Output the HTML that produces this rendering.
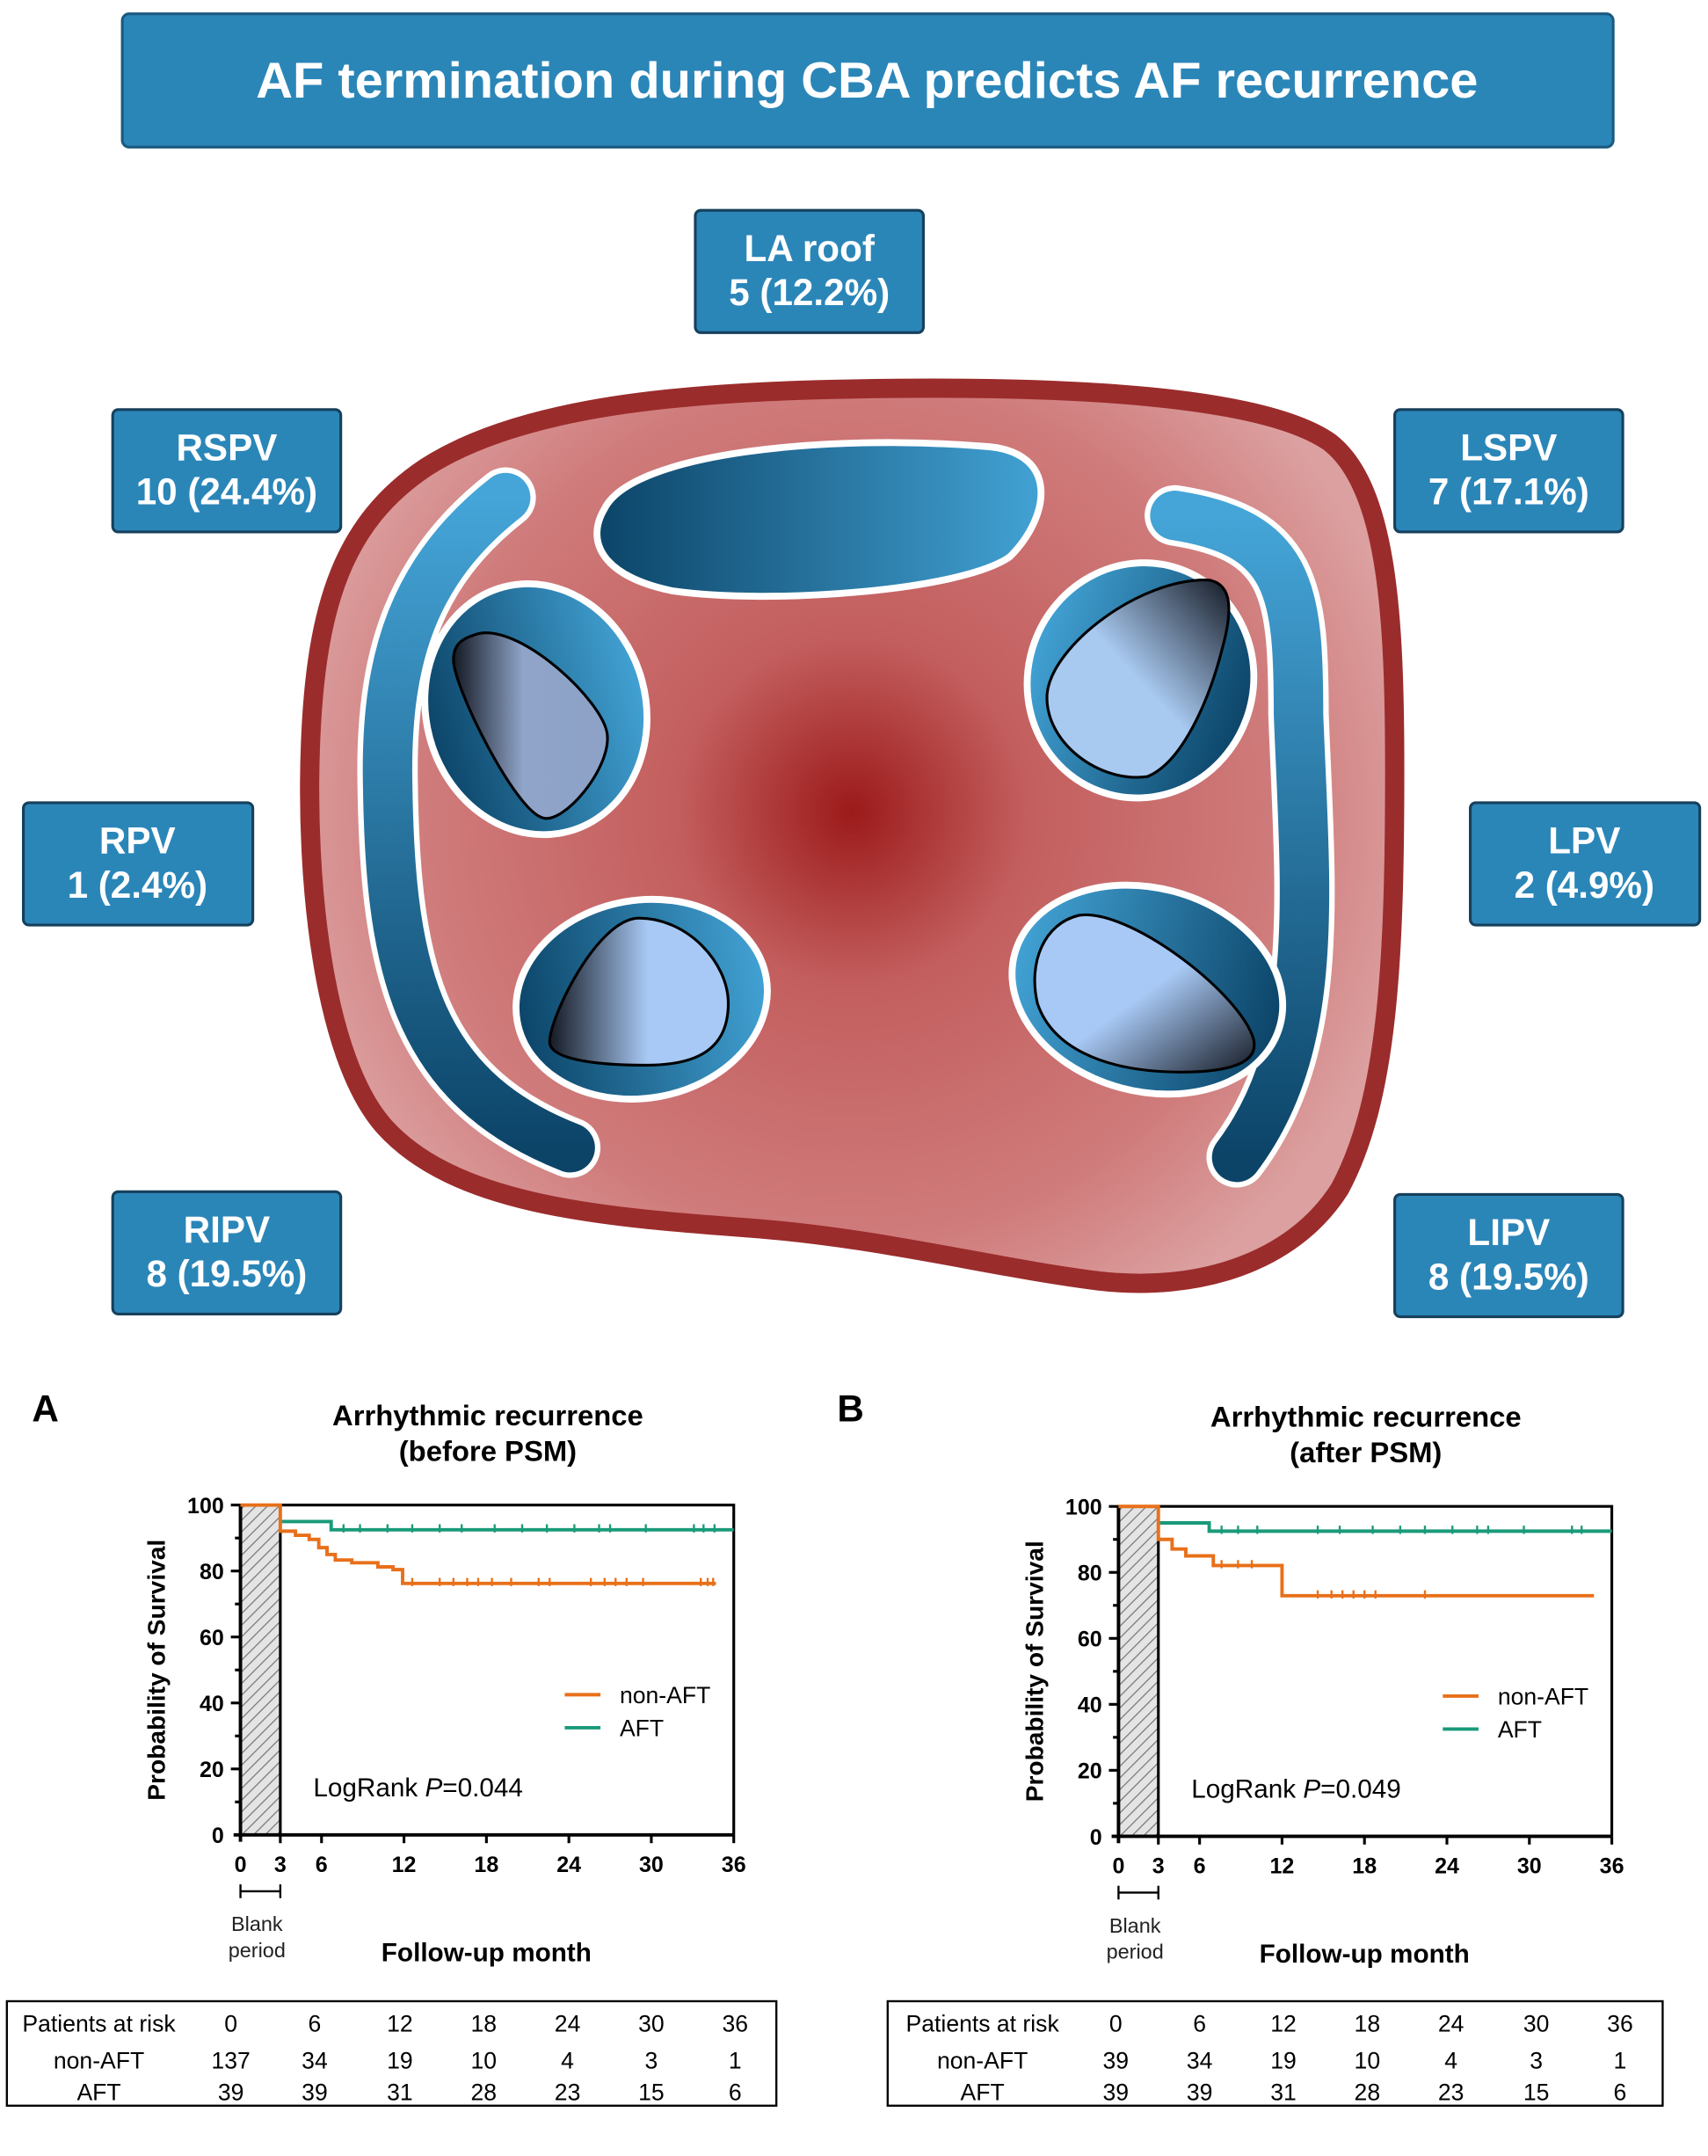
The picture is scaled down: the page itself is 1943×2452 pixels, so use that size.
<!DOCTYPE html>
<html><head><meta charset="utf-8"><style>
html,body{margin:0;padding:0;background:#fff;}
svg{display:block;}
text{font-family:"Liberation Sans",sans-serif;}
</style></head><body>
<svg width="1943" height="2452" viewBox="0 0 1243 1568.6" xmlns="http://www.w3.org/2000/svg">
<defs>
<radialGradient id="atr" cx="620" cy="590" r="420" gradientUnits="userSpaceOnUse">
<stop offset="0" stop-color="#9c1a1a"/><stop offset="0.3" stop-color="#c35e5e"/><stop offset="0.75" stop-color="#d07c7c"/><stop offset="1" stop-color="#dca0a0"/></radialGradient>
<linearGradient id="blu" x1="0" y1="0" x2="1" y2="0"><stop offset="0" stop-color="#0c4468"/><stop offset="1" stop-color="#42a2d4"/></linearGradient>
<linearGradient id="bluR" x1="1" y1="0" x2="0" y2="0"><stop offset="0" stop-color="#0c4468"/><stop offset="1" stop-color="#42a2d4"/></linearGradient>
<linearGradient id="bandL" x1="0" y1="0" x2="0" y2="1"><stop offset="0" stop-color="#45a5d8"/><stop offset="1" stop-color="#0c4468"/></linearGradient>
<linearGradient id="holeL" x1="0" y1="0" x2="1" y2="0"><stop offset="0" stop-color="#151a24"/><stop offset="0.45" stop-color="#8fa4c8"/><stop offset="1" stop-color="#8ea2c8"/></linearGradient>
<linearGradient id="holeR" x1="1" y1="0" x2="0" y2="1"><stop offset="0" stop-color="#151a24"/><stop offset="0.5" stop-color="#a8c9f0"/><stop offset="1" stop-color="#a8c9f0"/></linearGradient>
<linearGradient id="holeB" x1="0" y1="0" x2="1" y2="0"><stop offset="0" stop-color="#151a24"/><stop offset="0.55" stop-color="#a8c9f5"/><stop offset="1" stop-color="#a8c9f5"/></linearGradient>
<linearGradient id="holeBR" x1="1" y1="1" x2="0" y2="0"><stop offset="0" stop-color="#151a24"/><stop offset="0.5" stop-color="#a8c9f5"/><stop offset="1" stop-color="#a8c9f5"/></linearGradient>
<pattern id="hatch" width="6" height="6" patternUnits="userSpaceOnUse" patternTransform="rotate(45)"><rect width="6" height="6" fill="#e4e4e4"/><line x1="0" y1="0" x2="0" y2="6" stroke="#777" stroke-width="1.6"/></pattern>
</defs>

<!-- Title -->
<rect x="89" y="10" width="1085" height="97" rx="5" fill="#2b86b8" stroke="#1b5a80" stroke-width="2"/>
<text x="631" y="71" text-anchor="middle" font-size="37" font-weight="bold" fill="#fff">AF termination during CBA predicts AF recurrence</text>

<!-- Atrium -->
<path d="M 620 283 C 780 280, 920 288, 968 322 C 1010 355, 1015 450, 1015 560 C 1015 700, 1010 800, 975 865 C 940 920, 870 940, 800 932 C 720 922, 640 900, 540 893 C 430 885, 330 875, 280 820 C 235 770, 222 640, 226 540 C 230 440, 250 380, 310 340 C 380 295, 500 285, 620 283 Z" fill="url(#atr)" stroke="#9b2c2c" stroke-width="14"/>

<!-- bands -->
<path d="M 368 362 C 300 415, 282 480, 282 560 C 283 700, 300 790, 415 835" fill="none" stroke="#fff" stroke-width="44" stroke-linecap="round"/>
<path d="M 368 362 C 300 415, 282 480, 282 560 C 283 700, 300 790, 415 835" fill="none" stroke="url(#bandL)" stroke-width="36" stroke-linecap="round"/>
<path d="M 855 375 C 940 388, 945 430, 945 520 C 950 650, 962 760, 900 842" fill="none" stroke="#fff" stroke-width="44" stroke-linecap="round"/>
<path d="M 855 375 C 940 388, 945 430, 945 520 C 950 650, 962 760, 900 842" fill="none" stroke="url(#bandL)" stroke-width="36" stroke-linecap="round"/>

<!-- top oval -->
<path d="M 440 370 C 460 330, 600 315, 720 325 C 770 330, 765 375, 735 405 C 700 430, 560 440, 490 430 C 440 420, 425 395, 440 370 Z" fill="url(#blu)" stroke="#fff" stroke-width="5"/>

<!-- veins -->
<ellipse cx="390" cy="516" rx="80" ry="92" fill="url(#blu)" stroke="#fff" stroke-width="5" transform="rotate(-15 390 516)"/>
<path d="M 345 462 C 375 450, 440 510, 442 535 C 444 560, 410 600, 395 595 C 375 590, 330 500, 330 480 C 330 470, 335 465, 345 462 Z" fill="url(#holeL)" stroke="#000" stroke-width="2"/>
<ellipse cx="830" cy="495" rx="82" ry="86" fill="url(#bluR)" stroke="#fff" stroke-width="5" transform="rotate(20 830 495)"/>
<path d="M 880 422 C 895 425, 898 440, 890 470 C 880 510, 860 555, 835 565 C 800 570, 760 540, 762 505 C 765 470, 830 420, 880 422 Z" fill="url(#holeR)" stroke="#000" stroke-width="2"/>
<ellipse cx="467" cy="727" rx="92" ry="72" fill="url(#blu)" stroke="#fff" stroke-width="5" transform="rotate(-10 467 727)"/>
<path d="M 465 668 C 500 668, 530 700, 530 730 C 530 765, 505 775, 470 775 C 430 775, 400 770, 400 758 C 400 740, 435 668, 465 668 Z" fill="url(#holeB)" stroke="#000" stroke-width="2"/>
<ellipse cx="835" cy="720" rx="100" ry="74" fill="url(#bluR)" stroke="#fff" stroke-width="5" transform="rotate(15 835 720)"/>
<path d="M 785 666 C 820 660, 900 720, 912 755 C 918 775, 890 780, 860 780 C 800 780, 765 760, 755 730 C 748 700, 760 672, 785 666 Z" fill="url(#holeBR)" stroke="#000" stroke-width="2"/>

<!-- label boxes -->
<g font-size="27" font-weight="bold" fill="#fff" text-anchor="middle">
<rect x="506" y="153" width="166" height="89" rx="4" fill="#2b86b8" stroke="#16405c" stroke-width="2"/>
<text x="589" y="190">LA roof</text><text x="589" y="222">5 (12.2%)</text>
<rect x="82" y="298" width="166" height="89" rx="4" fill="#2b86b8" stroke="#16405c" stroke-width="2"/>
<text x="165" y="335">RSPV</text><text x="165" y="367">10 (24.4%)</text>
<rect x="1015" y="298" width="166" height="89" rx="4" fill="#2b86b8" stroke="#16405c" stroke-width="2"/>
<text x="1098" y="335">LSPV</text><text x="1098" y="367">7 (17.1%)</text>
<rect x="17" y="584" width="167" height="89" rx="4" fill="#2b86b8" stroke="#16405c" stroke-width="2"/>
<text x="100" y="621">RPV</text><text x="100" y="653">1 (2.4%)</text>
<rect x="1070" y="584" width="167" height="89" rx="4" fill="#2b86b8" stroke="#16405c" stroke-width="2"/>
<text x="1153" y="621">LPV</text><text x="1153" y="653">2 (4.9%)</text>
<rect x="82" y="867" width="166" height="89" rx="4" fill="#2b86b8" stroke="#16405c" stroke-width="2"/>
<text x="165" y="904">RIPV</text><text x="165" y="936">8 (19.5%)</text>
<rect x="1015" y="869" width="166" height="89" rx="4" fill="#2b86b8" stroke="#16405c" stroke-width="2"/>
<text x="1098" y="906">LIPV</text><text x="1098" y="938">8 (19.5%)</text>
</g>

<!-- Chart A -->
<g>
<text x="33" y="1034" font-size="27" font-weight="bold" text-anchor="middle">A</text>
<text x="355" y="1037" font-size="21" font-weight="bold" text-anchor="middle">Arrhythmic recurrence</text>
<text x="355" y="1063" font-size="21" font-weight="bold" text-anchor="middle">(before PSM)</text>
<rect x="175" y="1095" width="29" height="240" fill="url(#hatch)"/>
<polyline points="175,1095 534,1095 534,1335" fill="none" stroke="#000" stroke-width="2"/>
<line x1="204" y1="1095" x2="204" y2="1335" stroke="#000" stroke-width="2"/>
<line x1="175" y1="1095" x2="175" y2="1340" stroke="#000" stroke-width="2.5"/>
<line x1="170" y1="1335" x2="534" y2="1335" stroke="#000" stroke-width="2.5"/>
<g stroke="#000" stroke-width="2">
<line x1="168" y1="1095" x2="175" y2="1095"/><line x1="168" y1="1143" x2="175" y2="1143"/><line x1="168" y1="1191" x2="175" y2="1191"/><line x1="168" y1="1239" x2="175" y2="1239"/><line x1="168" y1="1287" x2="175" y2="1287"/>
<line x1="171" y1="1119" x2="175" y2="1119"/><line x1="171" y1="1167" x2="175" y2="1167"/><line x1="171" y1="1215" x2="175" y2="1215"/><line x1="171" y1="1263" x2="175" y2="1263"/><line x1="171" y1="1311" x2="175" y2="1311"/>
<line x1="204" y1="1335" x2="204" y2="1341"/><line x1="234" y1="1335" x2="234" y2="1341"/><line x1="294" y1="1335" x2="294" y2="1341"/><line x1="354" y1="1335" x2="354" y2="1341"/><line x1="414" y1="1335" x2="414" y2="1341"/><line x1="474" y1="1335" x2="474" y2="1341"/><line x1="534" y1="1335" x2="534" y2="1341"/>
<line x1="175" y1="1376" x2="204" y2="1376" stroke-width="1.5"/><line x1="175" y1="1371" x2="175" y2="1381" stroke-width="1.5"/><line x1="204" y1="1371" x2="204" y2="1381" stroke-width="1.5"/>
</g>
<g font-size="16" font-weight="bold" text-anchor="end">
<text x="163" y="1101">100</text><text x="163" y="1149">80</text><text x="163" y="1197">60</text><text x="163" y="1245">40</text><text x="163" y="1293">20</text><text x="163" y="1341">0</text></g>
<g font-size="16" font-weight="bold" text-anchor="middle">
<text x="175" y="1362">0</text><text x="204" y="1362">3</text><text x="234" y="1362">6</text><text x="294" y="1362">12</text><text x="354" y="1362">18</text><text x="414" y="1362">24</text><text x="474" y="1362">30</text><text x="534" y="1362">36</text></g>
<text transform="translate(120 1215) rotate(-90)" font-size="18" font-weight="bold" text-anchor="middle">Probability of Survival</text>
<text x="187" y="1405" font-size="15" text-anchor="middle" fill="#222">Blank</text><text x="187" y="1424" font-size="15" text-anchor="middle" fill="#222">period</text>
<text x="354" y="1427" font-size="19" font-weight="bold" text-anchor="middle">Follow-up month</text>
<polyline points="204,1107 241,1107 241,1113 534,1113" fill="none" stroke="#1a9a7a" stroke-width="2.5"/>
<polyline points="175,1095 204,1095 204,1114 215,1114 215,1117 225,1117 225,1120 232,1120 232,1126 238,1126 238,1131 244,1131 244,1135 256,1135 256,1137 275,1137 275,1140 286,1140 286,1142 293,1142 293,1152 521,1152" fill="none" stroke="#e8701a" stroke-width="2.5"/>
<g stroke="#e8701a" stroke-width="1.5"><path d="M300 1148v6M320 1148v6M330 1148v6M340 1148v6M348 1148v6M358 1148v6M372 1148v6M392 1148v6M400 1148v6M430 1148v6M440 1148v6M448 1148v6M456 1148v6M468 1148v6M510 1148v6M515 1148v6M519 1148v6"/></g>
<g stroke="#1a9a7a" stroke-width="1.5"><path d="M250 1109v6M262 1109v6M282 1109v6M300 1109v6M320 1109v6M336 1109v6M360 1109v6M380 1109v6M398 1109v6M418 1109v6M436 1109v6M444 1109v6M470 1109v6M505 1109v6M512 1109v6M520 1109v6"/></g>
<line x1="411" y1="1233" x2="437" y2="1233" stroke="#e8701a" stroke-width="2.5"/>
<line x1="411" y1="1257" x2="437" y2="1257" stroke="#1a9a7a" stroke-width="2.5"/>
<text x="451" y="1239" font-size="17">non-AFT</text><text x="451" y="1263" font-size="17">AFT</text>
<text x="228" y="1307" font-size="19">LogRank <tspan font-style="italic">P</tspan>=0.044</text>
<rect x="5" y="1456" width="560" height="76" fill="none" stroke="#000" stroke-width="1.5"/>
<g font-size="17" text-anchor="middle">
<text x="72" y="1478">Patients at risk</text><text x="168" y="1478">0</text><text x="229" y="1478">6</text><text x="291" y="1478">12</text><text x="352" y="1478">18</text><text x="413" y="1478">24</text><text x="474" y="1478">30</text><text x="535" y="1478">36</text>
<text x="72" y="1505">non-AFT</text><text x="168" y="1505">137</text><text x="229" y="1505">34</text><text x="291" y="1505">19</text><text x="352" y="1505">10</text><text x="413" y="1505">4</text><text x="474" y="1505">3</text><text x="535" y="1505">1</text>
<text x="72" y="1528">AFT</text><text x="168" y="1528">39</text><text x="229" y="1528">39</text><text x="291" y="1528">31</text><text x="352" y="1528">28</text><text x="413" y="1528">23</text><text x="474" y="1528">15</text><text x="535" y="1528">6</text>
</g>
</g>

<!-- Chart B -->
<g transform="translate(639 1)">
<text x="-20" y="1033" font-size="27" font-weight="bold" text-anchor="middle">B</text>
<text x="355" y="1037" font-size="21" font-weight="bold" text-anchor="middle">Arrhythmic recurrence</text>
<text x="355" y="1063" font-size="21" font-weight="bold" text-anchor="middle">(after PSM)</text>
<rect x="175" y="1095" width="29" height="240" fill="url(#hatch)"/>
<polyline points="175,1095 534,1095 534,1335" fill="none" stroke="#000" stroke-width="2"/>
<line x1="204" y1="1095" x2="204" y2="1335" stroke="#000" stroke-width="2"/>
<line x1="175" y1="1095" x2="175" y2="1340" stroke="#000" stroke-width="2.5"/>
<line x1="170" y1="1335" x2="534" y2="1335" stroke="#000" stroke-width="2.5"/>
<g stroke="#000" stroke-width="2">
<line x1="168" y1="1095" x2="175" y2="1095"/><line x1="168" y1="1143" x2="175" y2="1143"/><line x1="168" y1="1191" x2="175" y2="1191"/><line x1="168" y1="1239" x2="175" y2="1239"/><line x1="168" y1="1287" x2="175" y2="1287"/>
<line x1="171" y1="1119" x2="175" y2="1119"/><line x1="171" y1="1167" x2="175" y2="1167"/><line x1="171" y1="1215" x2="175" y2="1215"/><line x1="171" y1="1263" x2="175" y2="1263"/><line x1="171" y1="1311" x2="175" y2="1311"/>
<line x1="204" y1="1335" x2="204" y2="1341"/><line x1="234" y1="1335" x2="234" y2="1341"/><line x1="294" y1="1335" x2="294" y2="1341"/><line x1="354" y1="1335" x2="354" y2="1341"/><line x1="414" y1="1335" x2="414" y2="1341"/><line x1="474" y1="1335" x2="474" y2="1341"/><line x1="534" y1="1335" x2="534" y2="1341"/>
<line x1="175" y1="1376" x2="204" y2="1376" stroke-width="1.5"/><line x1="175" y1="1371" x2="175" y2="1381" stroke-width="1.5"/><line x1="204" y1="1371" x2="204" y2="1381" stroke-width="1.5"/>
</g>
<g font-size="16" font-weight="bold" text-anchor="end">
<text x="163" y="1101">100</text><text x="163" y="1149">80</text><text x="163" y="1197">60</text><text x="163" y="1245">40</text><text x="163" y="1293">20</text><text x="163" y="1341">0</text></g>
<g font-size="16" font-weight="bold" text-anchor="middle">
<text x="175" y="1362">0</text><text x="204" y="1362">3</text><text x="234" y="1362">6</text><text x="294" y="1362">12</text><text x="354" y="1362">18</text><text x="414" y="1362">24</text><text x="474" y="1362">30</text><text x="534" y="1362">36</text></g>
<text transform="translate(120 1215) rotate(-90)" font-size="18" font-weight="bold" text-anchor="middle">Probability of Survival</text>
<text x="187" y="1405" font-size="15" text-anchor="middle" fill="#222">Blank</text><text x="187" y="1424" font-size="15" text-anchor="middle" fill="#222">period</text>
<text x="354" y="1427" font-size="19" font-weight="bold" text-anchor="middle">Follow-up month</text>
<polyline points="204,1107 241,1107 241,1113 534,1113" fill="none" stroke="#1a9a7a" stroke-width="2.5"/>
<polyline points="175,1095 204,1095 204,1119 214,1119 214,1126 224,1126 224,1131 244,1131 244,1138 254,1138 254,1138 294,1138 294,1160 521,1160" fill="none" stroke="#e8701a" stroke-width="2.5"/>
<g stroke="#e8701a" stroke-width="1.5"><path d="M250 1134v6M262 1134v6M272 1134v6M320 1156v6M330 1156v6M338 1156v6M346 1156v6M354 1156v6M362 1156v6M398 1156v6"/></g>
<g stroke="#1a9a7a" stroke-width="1.5"><path d="M250 1109v6M262 1109v6M276 1109v6M320 1109v6M336 1109v6M360 1109v6M380 1109v6M398 1109v6M418 1109v6M436 1109v6M444 1109v6M470 1109v6M505 1109v6M512 1109v6"/></g>
<line x1="411" y1="1233" x2="437" y2="1233" stroke="#e8701a" stroke-width="2.5"/>
<line x1="411" y1="1257" x2="437" y2="1257" stroke="#1a9a7a" stroke-width="2.5"/>
<text x="451" y="1239" font-size="17">non-AFT</text><text x="451" y="1263" font-size="17">AFT</text>
<text x="228" y="1307" font-size="19">LogRank <tspan font-style="italic">P</tspan>=0.049</text>
</g>
<rect x="646" y="1456" width="564" height="76" fill="none" stroke="#000" stroke-width="1.5"/>
<g font-size="17" text-anchor="middle">
<text x="715" y="1478">Patients at risk</text><text x="812" y="1478">0</text><text x="873" y="1478">6</text><text x="934" y="1478">12</text><text x="995" y="1478">18</text><text x="1056" y="1478">24</text><text x="1118" y="1478">30</text><text x="1179" y="1478">36</text>
<text x="715" y="1505">non-AFT</text><text x="812" y="1505">39</text><text x="873" y="1505">34</text><text x="934" y="1505">19</text><text x="995" y="1505">10</text><text x="1056" y="1505">4</text><text x="1118" y="1505">3</text><text x="1179" y="1505">1</text>
<text x="715" y="1528">AFT</text><text x="812" y="1528">39</text><text x="873" y="1528">39</text><text x="934" y="1528">31</text><text x="995" y="1528">28</text><text x="1056" y="1528">23</text><text x="1118" y="1528">15</text><text x="1179" y="1528">6</text>
</g>
</svg>
</body></html>
